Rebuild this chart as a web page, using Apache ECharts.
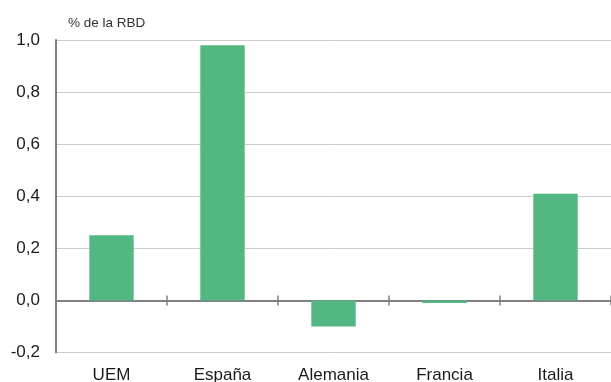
<!DOCTYPE html>
<html>
<head>
<meta charset="utf-8">
<script src="https://cdn.jsdelivr.net/npm/echarts@6/dist/echarts.min.js"></script>
<style>
  html, body { margin: 0; padding: 0; background: #ffffff; }
  #chart { width: 611px; height: 382px; }
</style>
</head>
<body>
<div id="chart"></div>
<script>
// Categories and values (% de la RBD)
const categories = ['UEM', 'España', 'Alemania', 'Francia', 'Italia'];
const values = [0.25, 0.98, -0.10, -0.01, 0.41];
const yMin = -0.2;
const yMax = 1.0;
const yStep = 0.2;

const chart = echarts.init(document.getElementById('chart'));
const fontFamily = 'Liberation Sans, Arial, Helvetica, sans-serif';
const tickStyle = { show: true, length: 5, lineStyle: { color: '#808080', width: 1.5 } };

chart.setOption({
  animation: false,
  title: {
    text: '% de la RBD',
    left: 63,
    top: 11,
    textStyle: { fontFamily, fontSize: 13.5, fontWeight: 'normal', color: '#333333' }
  },
  grid: {
    left: 56, right: 0, top: 40, bottom: 29.5,
    containLabel: false,
    outerBoundsMode: 'none'
  },
  xAxis: [
    {
      // category labels along the bottom
      type: 'category',
      data: categories,
      position: 'bottom',
      axisLine: { show: false, onZero: false },
      axisTick: { show: false },
      axisLabel: { margin: 14, fontFamily, fontSize: 17, color: '#1a1a1a' }
    },
    {
      // zero line with downward ticks
      type: 'category',
      data: categories,
      position: 'bottom',
      axisLine: { show: true, onZero: true, lineStyle: { color: '#808080', width: 2 } },
      axisTick: tickStyle,
      axisLabel: { show: false }
    },
    {
      // upward ticks on the zero line (sits on the helper value axis)
      type: 'category',
      data: categories,
      position: 'top',
      axisLine: { show: false, onZero: true },
      axisTick: tickStyle,
      axisLabel: { show: false }
    }
  ],
  yAxis: [
    {
      type: 'value',
      min: yMin,
      max: yMax,
      interval: yStep,
      axisLine: { show: true, onZero: false, lineStyle: { color: '#808080', width: 2 } },
      axisTick: { show: false },
      splitLine: { show: true, lineStyle: { color: '#cccccc', width: 1 } },
      axisLabel: {
        margin: 16,
        fontFamily,
        fontSize: 17,
        color: '#1a1a1a',
        formatter: v => v.toFixed(1).replace('.', ',')
      }
    },
    {
      // hidden helper axis with the same range
      type: 'value',
      min: yMin,
      max: yMax,
      interval: yStep,
      axisLine: { show: false, onZero: false },
      axisTick: { show: false },
      axisLabel: { show: false },
      splitLine: { show: false }
    }
  ],
  series: [
    {
      type: 'bar',
      xAxisIndex: 0,
      yAxisIndex: 0,
      data: values,
      barWidth: '40%',
      itemStyle: { color: '#52b781' }
    }
  ]
});
</script>
</body>
</html>
